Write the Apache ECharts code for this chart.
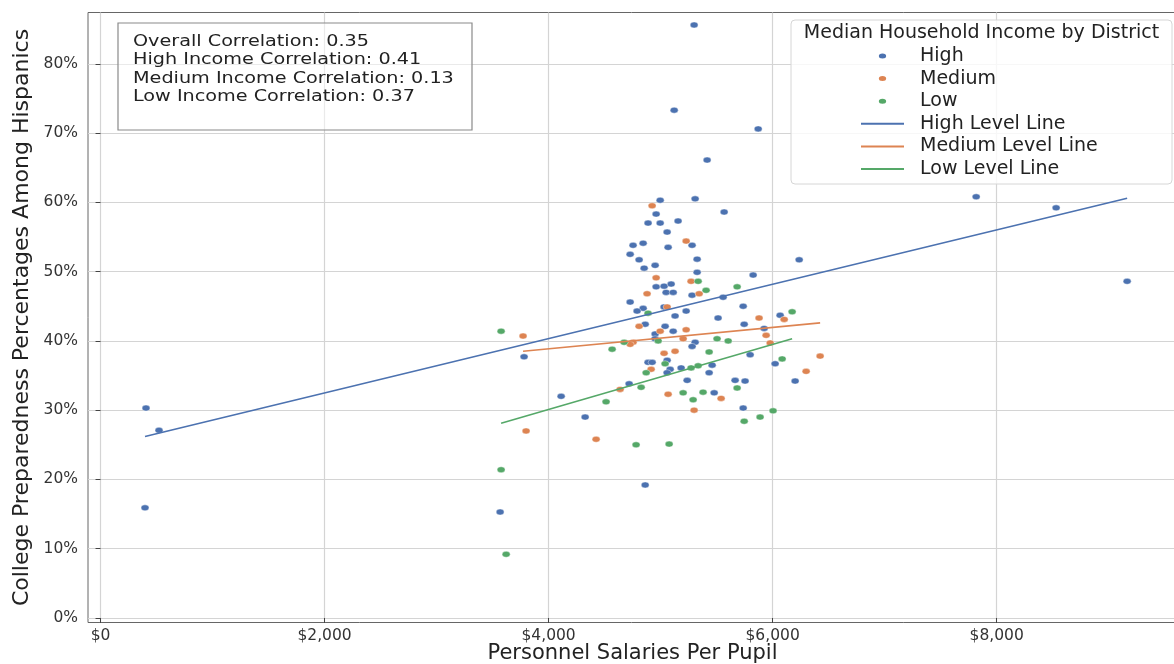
<!DOCTYPE html>
<html><head><meta charset="utf-8">
<script src="https://cdn.jsdelivr.net/npm/echarts@6/dist/echarts.min.js"></script>
<style>html,body{margin:0;padding:0;background:#fff}#c{width:1174px;height:664px}</style>
</head><body><div id="c"></div>
<script>
const xTicks = [0, 2000, 4000, 6000, 8000];
const yTicks = [0, 0.1, 0.2, 0.3, 0.4, 0.5, 0.6, 0.7, 0.8];
const seriesNames = ['High', 'Medium', 'Low'];
const lineNames = ['High Level Line', 'Medium Level Line', 'Low Level Line'];
const correlationLines = [
  'Overall Correlation: 0.35',
  'High Income Correlation: 0.41',
  'Medium Income Correlation: 0.13',
  'Low Income Correlation: 0.37'
];
const legendTitle = 'Median Household Income by District';
const xTitle = 'Personnel Salaries Per Pupil';
const yTitle = 'College Preparedness Percentages Among Hispanics';

const highData = [
  [406,0.303],[522,0.271],[397,0.159],[3781,0.377],[4112,0.320],[4326,0.290],[3567,0.153],[4862,0.192],
  [5121,0.733],[5299,0.856],[5871,0.706],[5415,0.661],[4996,0.603],[5308,0.605],[5567,0.586],[4960,0.583],
  [4888,0.570],[4996,0.570],[5156,0.573],[5058,0.557],[4844,0.541],[4754,0.538],[5067,0.535],[5281,0.538],
  [5326,0.518],[5326,0.499],[6237,0.517],[4728,0.525],[4808,0.517],[4951,0.509],[4853,0.505],[5826,0.495],
  [4960,0.478],[5031,0.479],[5094,0.482],[5049,0.470],[5112,0.470],[5281,0.466],[5558,0.463],[4728,0.456],
  [4844,0.447],[4790,0.443],[5031,0.449],[5228,0.443],[5737,0.450],[5129,0.436],[5513,0.433],[6067,0.437],
  [4862,0.424],[5040,0.421],[5112,0.414],[5746,0.424],[5924,0.418],[4951,0.410],[4951,0.403],[5308,0.398],
  [5281,0.392],[5799,0.380],[4888,0.369],[4924,0.369],[5058,0.372],[5460,0.365],[5085,0.359],[5183,0.361],
  [5058,0.354],[5433,0.354],[6022,0.367],[5237,0.343],[5665,0.343],[5754,0.342],[6201,0.342],[5478,0.325],
  [5737,0.303],[4719,0.338],[7817,0.608],[8531,0.592],[9165,0.486]
];
const mediumData = [
  [4924,0.595],[5228,0.544],[4960,0.491],[5272,0.486],[4879,0.468],[5344,0.468],[5058,0.449],[4808,0.421],
  [4996,0.414],[5228,0.416],[4754,0.398],[4728,0.395],[5201,0.403],[5879,0.433],[6103,0.431],[5942,0.408],
  [5978,0.397],[5031,0.382],[5129,0.385],[4915,0.359],[4638,0.330],[5067,0.323],[5540,0.317],[5299,0.300],
  [6424,0.378],[6299,0.356],[3772,0.407],[3799,0.270],[4424,0.258]
];
const lowData = [
  [5335,0.486],[5683,0.478],[5406,0.473],[4888,0.440],[6174,0.442],[4978,0.400],[4674,0.398],[4567,0.388],
  [5504,0.403],[5603,0.400],[5040,0.367],[5433,0.384],[6085,0.374],[5335,0.364],[5272,0.361],[4871,0.354],
  [4826,0.333],[5201,0.325],[5379,0.326],[4513,0.312],[5290,0.315],[5683,0.332],[6004,0.299],[5888,0.290],
  [5746,0.284],[3576,0.414],[3576,0.214],[3621,0.092],[4781,0.250],[5076,0.251]
];
const highLine = [[397,0.262],[9165,0.606]];
const mediumLine = [[3772,0.385],[6424,0.426]];
const lowLine = [[3576,0.281],[6174,0.403]];

const colors = ['#4c72b0', '#dd8452', '#55a868'];
const FONT = 'DejaVu Sans';
const dot = 'path://M0,3a4,3 0 1,0 8,0a4,3 0 1,0 -8,0z';

const chart = echarts.init(document.getElementById('c'), null, {renderer: 'canvas'});

function scatter(name, data, color) {
  return {
    name, type: 'scatter', data, symbol: dot, symbolSize: [8, 6], z: 2,
    itemStyle: {color, borderColor: '#fff', borderWidth: 0.4, opacity: 1}
  };
}
function line(name, data, color) {
  return {
    name, type: 'line', data, symbol: 'none', showSymbol: false, z: 3, silent: true,
    lineStyle: {color, width: 1.6}, itemStyle: {color}
  };
}

const legendData = seriesNames.map((n, i) => ({name: n, icon: dot, itemStyle: {color: colors[i]}}))
  .concat(lineNames.map(n => ({name: n, itemStyle: {opacity: 0}})));

chart.setOption({
  animation: false,
  backgroundColor: '#fff',
  textStyle: {fontFamily: FONT},
  grid: {left: 88, right: -3, top: 12.5, bottom: 41.5, containLabel: false, outerBoundsMode: 'none',
    show: true, borderColor: '#666', borderWidth: 1, backgroundColor: 'transparent'},
  xAxis: {
    type: 'value', min: -112, max: 9610,
    name: xTitle, nameLocation: 'middle', nameGap: 21, nameMoveOverlap: false,
    nameTextStyle: {fontSize: 21, color: '#222', fontFamily: FONT},
    axisLine: {show: false},
    axisTick: {show: true, customValues: xTicks, length: 5, lineStyle: {color: '#444', width: 1}},
    axisLabel: {customValues: xTicks, margin: 5, fontSize: 15.5, color: '#333', fontFamily: FONT,
      formatter: v => '$' + Number(v).toLocaleString('en-US')},
    splitLine: {show: true, lineStyle: {color: '#d4d4d4', width: 1.2}}
  },
  yAxis: {
    type: 'value', min: -0.0065, max: 0.874,
    name: yTitle, nameLocation: 'middle', nameGap: 55, nameRotate: 90, nameMoveOverlap: false,
    nameTextStyle: {fontSize: 22, color: '#222', fontFamily: FONT},
    axisLine: {show: false},
    axisTick: {show: true, customValues: yTicks, length: 5, lineStyle: {color: '#444', width: 1}},
    axisLabel: {customValues: yTicks, margin: 10, fontSize: 15.5, color: '#333', fontFamily: FONT,
      formatter: v => Math.round(v * 100) + '%'},
    splitLine: {show: true, lineStyle: {color: '#d4d4d4', width: 1.2}}
  },
  legend: {
    orient: 'vertical', left: 860, top: 44.7, padding: 0, itemGap: 0, z: 60,
    itemWidth: 43, itemHeight: 7, symbolKeepAspect: true,
    textStyle: {fontSize: 19, color: '#222', fontFamily: FONT, lineHeight: 22.6, padding: [0, 0, 0, 11]},
    data: legendData
  },
  graphic: [
    {type: 'rect', z: 50, silent: true, shape: {x: 118, y: 23, width: 354, height: 107},
      style: {fill: 'rgba(255,255,255,0.5)', stroke: '#8a8a8a', lineWidth: 1.2}},
    {type: 'text', z: 51, silent: true, x: 133, y: 32.8, scaleX: 1.2,
      style: {text: correlationLines.join('\n'), font: '16px "DejaVu Sans"', lineHeight: 18.3, fill: '#222', verticalAlign: 'top'}},
    {type: 'rect', z: 50, silent: true, shape: {x: 791, y: 20, width: 381, height: 164, r: 4},
      style: {fill: 'rgba(255,255,255,0.8)', stroke: '#d6d6d6', lineWidth: 1}},
    {type: 'text', z: 51, silent: true, x: 981.5, y: 33,
      style: {text: legendTitle, font: '19px "DejaVu Sans"', fill: '#222', align: 'center', verticalAlign: 'middle'}}
  ],
  series: [
    scatter(seriesNames[0], highData, colors[0]),
    scatter(seriesNames[1], mediumData, colors[1]),
    scatter(seriesNames[2], lowData, colors[2]),
    line(lineNames[0], highLine, colors[0]),
    line(lineNames[1], mediumLine, colors[1]),
    line(lineNames[2], lowLine, colors[2])
  ]
});
</script>
</body></html>
